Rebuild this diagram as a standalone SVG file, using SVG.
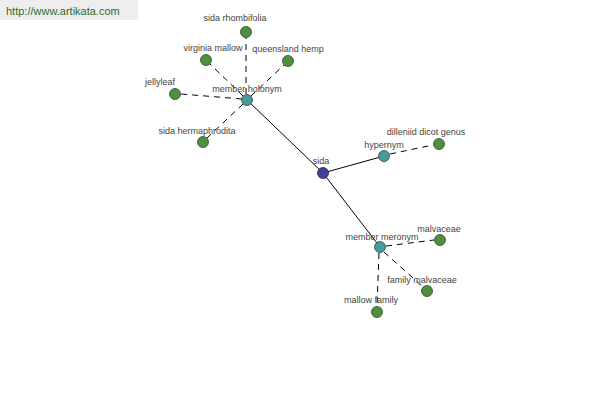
<svg xmlns="http://www.w3.org/2000/svg" width="600" height="400" viewBox="0 0 600 400">
<style>
text{font-family:"Liberation Sans",Arial,sans-serif;font-size:9px;fill:#444;text-anchor:middle}
.leaf{fill:#4f8f3f;stroke:#2a4a2a;stroke-width:0.8}
.mid{fill:#4a9a9a;stroke:#2a4a4a;stroke-width:0.8}
.root{fill:#40409a;stroke:#20204a;stroke-width:0.8}
.solid{stroke:#000;stroke-width:1;fill:none}
.dash{stroke:#000;stroke-width:1;fill:none;stroke-dasharray:6,5}
</style>
<rect width="600" height="400" fill="#fff"/>
<rect x="0" y="0" width="138" height="20" fill="#eeeeee"/>
<text x="6" y="15" style="text-anchor:start;font-size:11px;fill:#2e6b2e">http://www.artikata.com</text>
<g id="connectors">
<line class="solid" x1="247" y1="100" x2="323" y2="173"/>
<line class="solid" x1="323" y1="173" x2="384" y2="156"/>
<line class="solid" x1="323" y1="173" x2="380" y2="247"/>
<line class="dash" x1="246" y1="94" x2="246" y2="38"/>
<line class="dash" x1="243" y1="96" x2="210" y2="64"/>
<line class="dash" x1="251" y1="96" x2="284" y2="65"/>
<line class="dash" x1="242" y1="99" x2="181" y2="94"/>
<line class="dash" x1="243" y1="104" x2="207" y2="138"/>
<line class="dash" x1="390" y1="154" x2="433" y2="145"/>
<line class="dash" x1="386" y1="246" x2="434" y2="240"/>
<line class="dash" x1="384" y1="252" x2="423" y2="287"/>
<line class="dash" x1="379" y1="253" x2="377" y2="306"/>
</g>
<g id="n-sida"><circle class="root" cx="323" cy="173" r="5.5"/><text x="321" y="164">sida</text></g>
<g id="n-member-holonym"><circle class="mid" cx="247" cy="100" r="5.5"/><text x="247" y="92">member holonym</text></g>
<g id="n-hypernym"><circle class="mid" cx="384" cy="156" r="5.5"/><text x="384" y="148">hypernym</text></g>
<g id="n-member-meronym"><circle class="mid" cx="380" cy="247" r="5.5"/><text x="382" y="240">member meronym</text></g>
<g id="n-sida-rhombifolia"><circle class="leaf" cx="246" cy="32" r="5.5"/><text x="235" y="21">sida rhombifolia</text></g>
<g id="n-virginia-mallow"><circle class="leaf" cx="206" cy="60" r="5.5"/><text x="213" y="51">virginia mallow</text></g>
<g id="n-queensland-hemp"><circle class="leaf" cx="288" cy="61" r="5.5"/><text x="288" y="52">queensland hemp</text></g>
<g id="n-jellyleaf"><circle class="leaf" cx="175" cy="94" r="5.5"/><text x="160" y="85">jellyleaf</text></g>
<g id="n-sida-hermaphrodita"><circle class="leaf" cx="203" cy="142" r="5.5"/><text x="197" y="134">sida hermaphrodita</text></g>
<g id="n-dilleniid-dicot-genus"><circle class="leaf" cx="439" cy="144" r="5.5"/><text x="426" y="135">dilleniid dicot genus</text></g>
<g id="n-malvaceae"><circle class="leaf" cx="440" cy="240" r="5.5"/><text x="439" y="232">malvaceae</text></g>
<g id="n-family-malvaceae"><circle class="leaf" cx="427" cy="291" r="5.5"/><text x="422" y="283">family malvaceae</text></g>
<g id="n-mallow-family"><circle class="leaf" cx="377" cy="312" r="5.5"/><text x="371" y="303">mallow family</text></g>
</svg>
